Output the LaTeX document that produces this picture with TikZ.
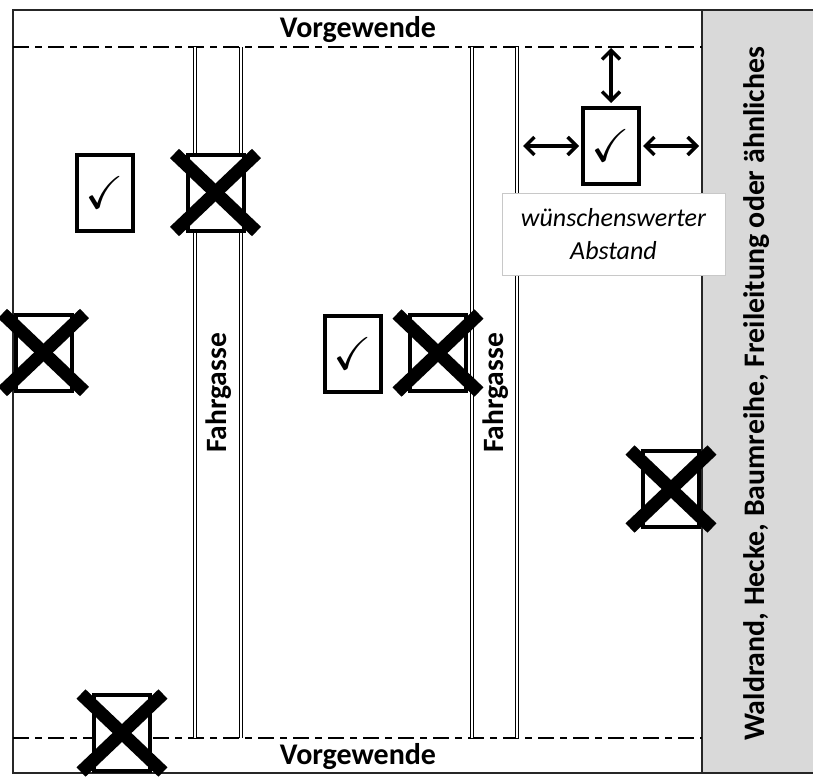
\documentclass[tikz,border=0pt]{standalone}
\usepackage{fontspec}
\setmainfont{Carlito}
\usepackage{amssymb}
\usetikzlibrary{arrows.meta}
\definecolor{bargrey}{HTML}{D9D9D9}
\definecolor{labelgrey}{HTML}{C8C8C8}
\begin{document}
\begin{tikzpicture}[x=1pt,y=-1pt,
  frame/.style={line width=1.8pt, draw=black!85},
  headland/.style={line width=1.6pt, dash pattern=on 16pt off 6pt on 7pt off 6pt},
  lane/.style={double, double distance=1.6pt, line width=1.4pt},
  markbox/.style={draw, line width=4pt, fill=white, rectangle, inner sep=0pt,
     minimum width=56pt, minimum height=76pt, font=\fontsize{46}{46}\selectfont},
  crossline/.style={line width=13pt},
  dimarrow/.style={line width=3.5pt, {Straight Barb[length=9pt,width=18pt]}-{Straight Barb[length=9pt,width=18pt]}},
  headtext/.style={font=\fontsize{30}{34}\selectfont\bfseries},
  lanetext/.style={font=\fontsize{29.5}{32}\selectfont\bfseries, rotate=90},
]
\useasboundingbox (0,0) rectangle (813,776);
% grey strip
\fill[bargrey] (702,10) rectangle (813,773);
% frame
\coordinate (ftr) at (813,10);
\coordinate (ftl) at (13,10);
\coordinate (fbl) at (13,773);
\coordinate (fbr) at (813,773);
\coordinate (gt) at (702,10);
\coordinate (gb) at (702,773);
\draw[frame] (ftr) -- (ftl) -- (fbl) -- (fbr);
\draw[frame] (gt) -- (gb);
% headland lines
\coordinate (h1l) at (13,47);
\coordinate (h1r) at (702,47);
\coordinate (h2l) at (13,738);
\coordinate (h2r) at (702,738);
\draw[headland] (h1l) -- (h1r);
\draw[headland] (h2l) -- (h2r);
% lanes
\foreach \x/\n in {195/a,241/b,472/c,517/d}{
  \coordinate (lt\n) at (\x,47);
  \coordinate (lb\n) at (\x,738);
  \draw[lane] (lt\n) -- (lb\n);
}
\node[lanetext] (fg1) at (219,393) {Fahrgasse};
\node[lanetext] (fg2) at (496,393) {Fahrgasse};
% headland labels
\node[headtext] (vg1) at (358,30) {Vorgewende};
\node[headtext] (vg2) at (358,757) {Vorgewende};
% boxes
\node[markbox] (b1) at (105,192.5) {$\checkmark$};
\node[markbox] (b2) at (215.5,192.5) {};
\node[markbox] (b3) at (43.5,352.5) {};
\node[markbox] (b4) at (353,353.5) {$\checkmark$};
\node[markbox] (b5) at (438,353) {};
\node[markbox] (b6) at (611,146) {$\checkmark$};
\node[markbox] (b7) at (671,489) {};
\node[markbox] (b8) at (122,733) {};
% crosses
\foreach \b in {b2,b3,b5,b7,b8}{
  \draw[crossline] ([shift={(-41,-39)}]\b.center) -- ([shift={(41,39)}]\b.center);
  \draw[crossline] ([shift={(-41,39)}]\b.center) -- ([shift={(41,-39)}]\b.center);
}
% distance arrows
\coordinate (at) at (611,48);
\coordinate (al) at (523,146);
\coordinate (ar) at (699,146);
\draw[dimarrow, shorten >=3pt] (at) -- (b6.north);
\draw[dimarrow, shorten >=2pt] (al) -- (b6.west);
\draw[dimarrow, shorten <=2pt] (b6.east) -- (ar);
% label
\node[draw=labelgrey, line width=1pt, fill=white, minimum width=223pt, minimum height=82pt,
      align=center, font=\fontsize{26}{33}\selectfont\itshape] (lbl) at (613.5,234)
      {wünschenswerter\\Abstand};
% strip text
\node[font=\fontsize{29.8}{34}\selectfont\bfseries, rotate=90] (strip) at (757,394)
      {Waldrand, Hecke, Baumreihe, Freileitung oder ähnliches};
\end{tikzpicture}
\end{document}
